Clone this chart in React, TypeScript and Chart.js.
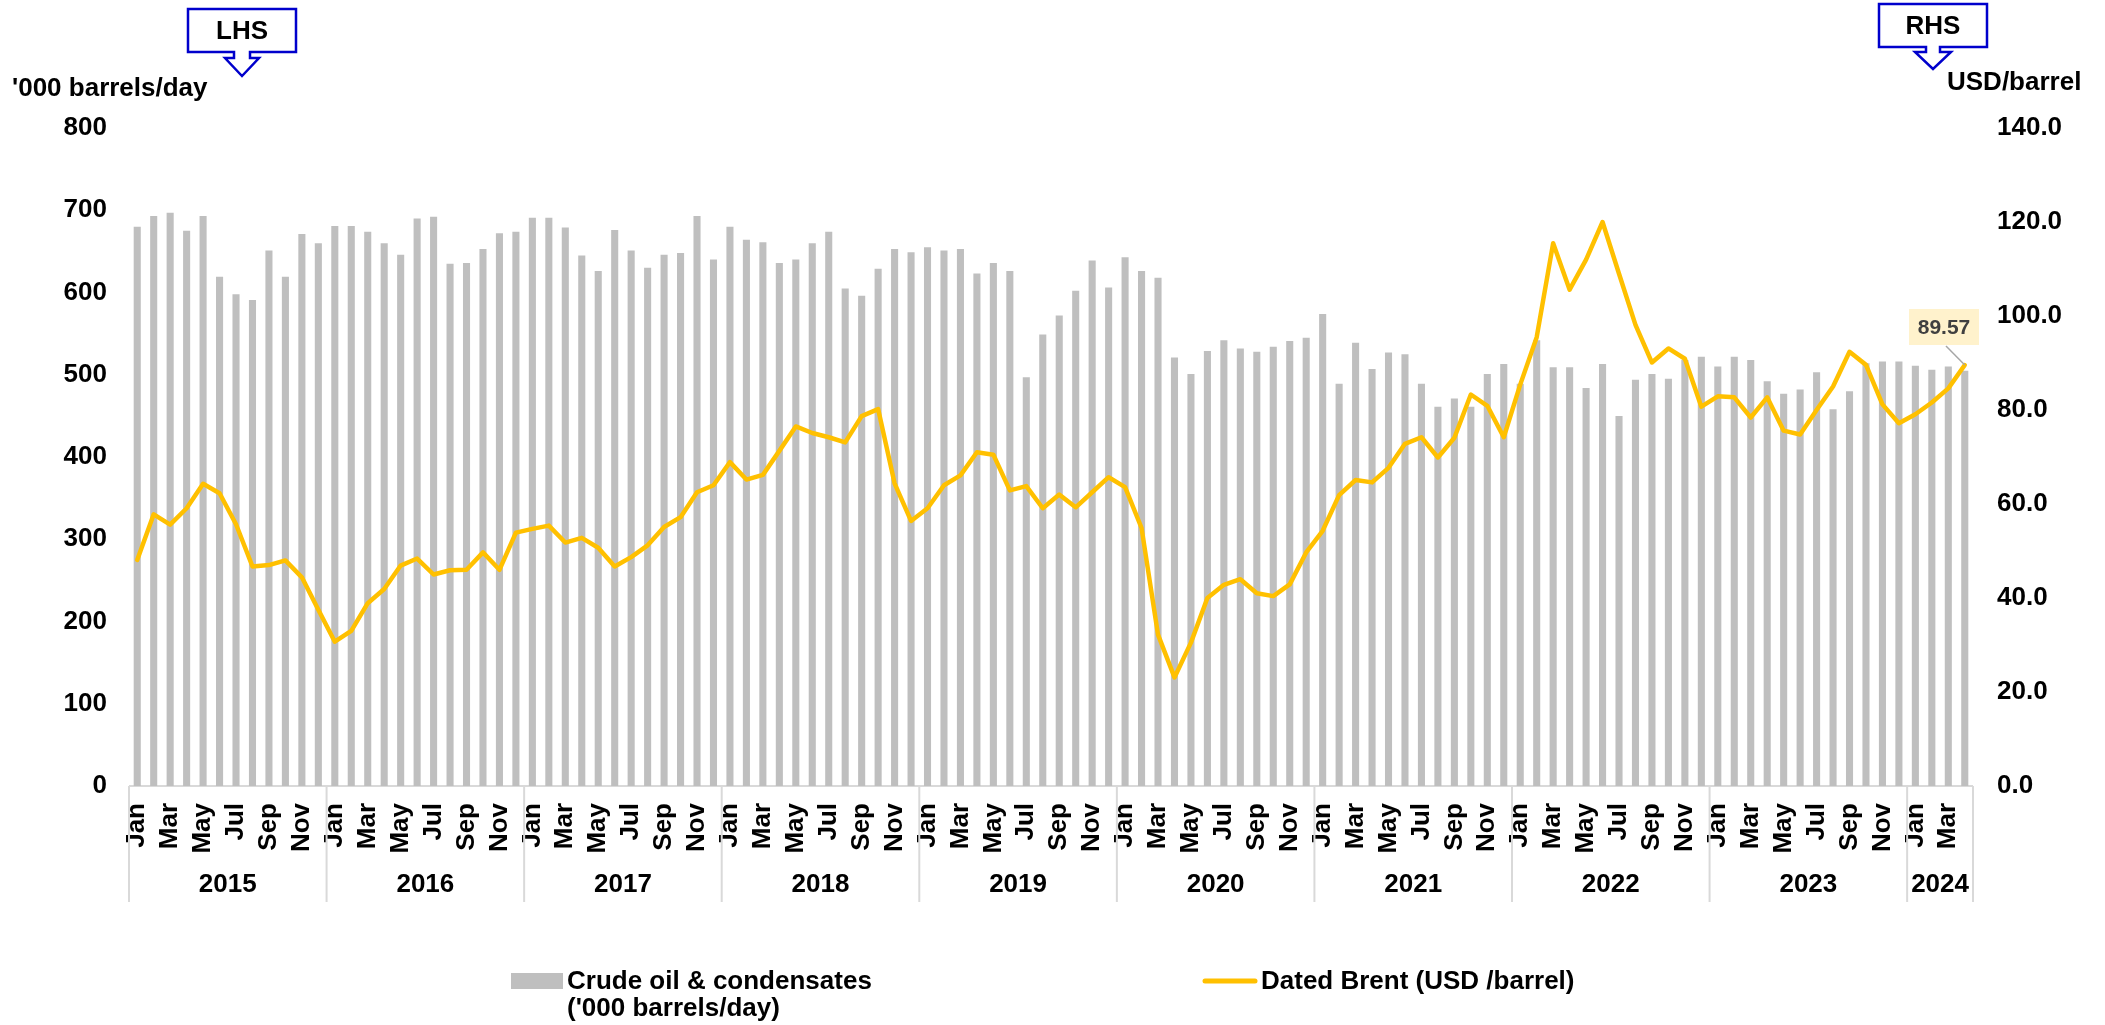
import React, { useEffect, useRef } from "react";
import { Chart, registerables } from "chart.js";

Chart.register(...registerables);

const YEARS = ["2015", "2016", "2017", "2018", "2019", "2020", "2021", "2022", "2023", "2024"];
const MONTHS = ["Jan", "Feb", "Mar", "Apr", "May", "Jun", "Jul", "Aug", "Sep", "Oct", "Nov", "Dec"];
const MONTHS_PER_YEAR = [12, 12, 12, 12, 12, 12, 12, 12, 12, 4];

// Crude oil & condensates ('000 barrels/day), Jan 2015 .. Apr 2024
const CRUDE = [
  680, 693, 697, 675, 693, 619, 598, 591, 651, 619, 671, 660,
  681, 681, 674, 660, 646, 690, 692, 635, 636, 653, 672, 674,
  691, 691, 679, 645, 626, 676, 651, 630, 646, 648, 693, 640,
  680, 664, 661, 636, 640, 660, 674, 605, 596, 629, 653, 649,
  655, 651, 653, 623, 636, 626, 497, 549, 572, 602, 639, 606,
  643, 626, 618, 521, 501, 529, 542, 532, 528, 534, 541, 545,
  574, 489, 539, 507, 527, 525, 489, 461, 471, 461, 501, 513,
  489, 542, 509, 509, 484, 513, 450, 494, 501, 495, 518, 522,
  510, 522, 518, 492, 477, 482, 503, 458, 480, 514, 516, 516,
  511, 506, 510, 505,
];

// Dated Brent (USD/barrel), Jan 2015 .. Apr 2024
const BRENT = [
  48.1, 57.8, 55.6, 59.1, 64.3, 62.3, 55.7, 46.7, 47.0, 48.0, 44.4, 37.5,
  30.7, 33.0, 38.9, 41.9, 46.9, 48.4, 45.0, 45.9, 46.0, 49.7, 46.0, 53.9,
  54.7, 55.4, 51.8, 52.8, 50.7, 46.7, 48.7, 51.2, 55.1, 57.2, 62.5, 64.0,
  68.9, 65.2, 66.2, 71.3, 76.5, 75.1, 74.2, 73.1, 78.7, 80.2, 64.4, 56.4,
  59.1, 64.0, 66.1, 71.0, 70.5, 62.9, 63.8, 59.1, 62.0, 59.3, 62.5, 65.7,
  63.6, 54.9, 32.2, 23.1, 30.5, 40.0, 42.8, 44.0, 41.0, 40.4, 42.9, 49.7,
  54.3, 61.9, 65.1, 64.6, 67.7, 72.8, 74.2, 69.9, 74.1, 83.3, 80.9, 74.2,
  85.4, 95.5, 115.5, 105.6, 112.0, 120.0, 109.0, 98.1, 90.1, 93.1, 90.9, 80.7,
  82.9, 82.7, 78.4, 82.7, 75.6, 74.8, 80.0, 85.0, 92.4, 89.6, 81.2, 77.2,
  79.1, 81.6, 84.6, 89.57,
];

const LEFT_AXIS = { min: 0, max: 800, step: 100 };
const RIGHT_AXIS = { min: 0, max: 140, step: 20 };
const LAST_LABEL = "89.57";

const W = 2105;
const H = 1025;
const PLOT_LEFT = 129;
const PLOT_RIGHT = 1973;
const PLOT_TOP = 128;
const PLOT_BOTTOM = 786;
const FONT = '"Liberation Sans", Arial, sans-serif';
const BOLD26 = `bold 26px ${FONT}`;

const CAT_MONTH: string[] = [];
const CAT_LABELS: string[] = [];
YEARS.forEach((y, yi) => {
  for (let m = 0; m < MONTHS_PER_YEAR[yi]; m++) {
    CAT_MONTH.push(MONTHS[m]);
    CAT_LABELS.push(`${MONTHS[m]} ${y}`);
  }
});

function drawArrowBox(ctx: CanvasRenderingContext2D, x0: number, y0: number, x1: number, y1: number,
  cx: number, stemHalf: number, headHalf: number, stemBottom: number, tip: number, text: string, textY: number) {
  ctx.save();
  ctx.beginPath();
  ctx.moveTo(x0, y0);
  ctx.lineTo(x1, y0);
  ctx.lineTo(x1, y1);
  ctx.lineTo(cx + stemHalf, y1);
  ctx.lineTo(cx + stemHalf, stemBottom);
  ctx.lineTo(cx + headHalf, stemBottom);
  ctx.lineTo(cx, tip);
  ctx.lineTo(cx - headHalf, stemBottom);
  ctx.lineTo(cx - stemHalf, stemBottom);
  ctx.lineTo(cx - stemHalf, y1);
  ctx.lineTo(x0, y1);
  ctx.closePath();
  ctx.fillStyle = "#ffffff";
  ctx.fill();
  ctx.strokeStyle = "#0000CC";
  ctx.lineWidth = 2.5;
  ctx.lineJoin = "miter";
  ctx.stroke();
  ctx.fillStyle = "#000";
  ctx.font = BOLD26;
  ctx.textAlign = "center";
  ctx.textBaseline = "middle";
  ctx.fillText(text, (x0 + x1) / 2, textY);
  ctx.restore();
}

const decorPlugin = {
  id: "decor",
  beforeDatasetsDraw(chart: any) {
    const { ctx, chartArea, scales } = chart;
    const y0 = scales.yL.getPixelForValue(0);
    ctx.save();
    ctx.strokeStyle = "#D9D9D9";
    ctx.lineWidth = 2;
    ctx.beginPath();
    ctx.moveTo(chartArea.left, y0);
    ctx.lineTo(chartArea.right, y0);
    ctx.stroke();
    ctx.restore();
  },
  afterDraw(chart: any) {
    const { ctx, scales } = chart;
    const xs = scales.x;
    const y0 = scales.yL.getPixelForValue(0);
    const half = (xs.getPixelForValue(1) - xs.getPixelForValue(0)) / 2;

    ctx.save();
    // month labels
    ctx.font = BOLD26;
    ctx.fillStyle = "#000";
    ctx.textAlign = "right";
    ctx.textBaseline = "middle";
    CAT_MONTH.forEach((m, i) => {
      if (MONTHS.indexOf(m) % 2 !== 0) return;
      const x = xs.getPixelForValue(i);
      ctx.save();
      ctx.translate(x, y0 + 17);
      ctx.rotate(-Math.PI / 2);
      ctx.fillText(m, 0, 0);
      ctx.restore();
    });

    // year groups
    let start = 0;
    ctx.strokeStyle = "#D9D9D9";
    ctx.lineWidth = 2;
    const sepBottom = y0 + 116;
    YEARS.forEach((y, yi) => {
      const end = start + MONTHS_PER_YEAR[yi] - 1;
      const left = xs.getPixelForValue(start) - half;
      const right = xs.getPixelForValue(end) + half;
      ctx.beginPath();
      ctx.moveTo(left, y0);
      ctx.lineTo(left, sepBottom);
      ctx.stroke();
      if (yi === YEARS.length - 1) {
        ctx.beginPath();
        ctx.moveTo(right, y0);
        ctx.lineTo(right, sepBottom);
        ctx.stroke();
      }
      ctx.textAlign = "center";
      ctx.textBaseline = "middle";
      ctx.fillText(y, (left + right) / 2, y0 + 99);
      start = end + 1;
    });

    // axis titles
    ctx.textAlign = "left";
    ctx.textBaseline = "middle";
    ctx.fillText("'000 barrels/day", 12, 89);
    ctx.fillText("USD/barrel", 1947, 83);
    ctx.restore();

    drawArrowBox(ctx, 188, 9, 296, 52, 242, 8, 17, 58, 76, "LHS", 32);
    drawArrowBox(ctx, 1879, 4, 1987, 47, 1933, 7, 18, 52, 69, "RHS", 27);

    // last-point data label
    const lastIdx = BRENT.length - 1;
    const px = xs.getPixelForValue(lastIdx);
    const py = scales.yR.getPixelForValue(BRENT[lastIdx]);
    ctx.save();
    ctx.strokeStyle = "#A6A6A6";
    ctx.lineWidth = 1.5;
    ctx.beginPath();
    ctx.moveTo(1946, 346);
    ctx.lineTo(px, py);
    ctx.stroke();
    ctx.fillStyle = "#FFF2CC";
    ctx.fillRect(1909, 309, 70, 36);
    ctx.fillStyle = "#404040";
    ctx.font = `bold 21px ${FONT}`;
    ctx.textAlign = "center";
    ctx.textBaseline = "middle";
    ctx.fillText(LAST_LABEL, 1944, 328);
    ctx.restore();

    // legend
    ctx.save();
    ctx.fillStyle = "#BFBFBF";
    ctx.fillRect(511, 973, 52, 16);
    ctx.strokeStyle = "#FFC000";
    ctx.lineWidth = 5;
    ctx.lineCap = "round";
    ctx.beginPath();
    ctx.moveTo(1205, 981);
    ctx.lineTo(1255, 981);
    ctx.stroke();
    ctx.fillStyle = "#000";
    ctx.font = BOLD26;
    ctx.textAlign = "left";
    ctx.textBaseline = "middle";
    ctx.fillText("Crude oil & condensates", 567, 982);
    ctx.fillText("('000 barrels/day)", 567, 1009);
    ctx.fillText("Dated Brent (USD /barrel)", 1261, 982);
    ctx.restore();
  },
};

export default function App() {
  const ref = useRef<HTMLCanvasElement | null>(null);

  useEffect(() => {
    if (!ref.current) return;
    const chart = new Chart(ref.current, {
      type: "bar",
      data: {
        labels: CAT_LABELS,
        datasets: [
          {
            type: "line",
            label: "Dated Brent (USD /barrel)",
            data: BRENT,
            yAxisID: "yR",
            borderColor: "#FFC000",
            backgroundColor: "#FFC000",
            borderWidth: 4.5,
            pointRadius: 0,
            tension: 0,
            borderJoinStyle: "round",
            borderCapStyle: "round",
            order: 0,
          } as any,
          {
            type: "bar",
            label: "Crude oil & condensates ('000 barrels/day)",
            data: CRUDE,
            yAxisID: "yL",
            backgroundColor: "#BFBFBF",
            barPercentage: 0.43,
            categoryPercentage: 1.0,
            order: 1,
          } as any,
        ],
      },
      options: {
        responsive: false,
        animation: false,
        devicePixelRatio: 1,
        layout: { padding: { top: PLOT_TOP, left: 0, right: 0, bottom: 0 } },
        plugins: { legend: { display: false }, tooltip: { enabled: false } },
        scales: {
          x: {
            type: "category",
            offset: true,
            grid: { display: false },
            border: { display: false },
            ticks: { display: false },
            afterFit: (s: any) => { s.height = H - PLOT_BOTTOM; },
          },
          yL: {
            type: "linear",
            position: "left",
            min: LEFT_AXIS.min,
            max: LEFT_AXIS.max,
            grid: { display: false, drawTicks: false },
            border: { display: false },
            ticks: {
              stepSize: LEFT_AXIS.step,
              padding: 22,
              color: "#000",
              font: { family: FONT, size: 26, weight: "bold" },
            },
            afterFit: (s: any) => { s.width = PLOT_LEFT; },
          },
          yR: {
            type: "linear",
            position: "right",
            min: RIGHT_AXIS.min,
            max: RIGHT_AXIS.max,
            grid: { display: false, drawTicks: false },
            border: { display: false },
            ticks: {
              stepSize: RIGHT_AXIS.step,
              padding: 24,
              color: "#000",
              font: { family: FONT, size: 26, weight: "bold" },
              callback: (v: any) => Number(v).toFixed(1),
            },
            afterFit: (s: any) => { s.width = W - PLOT_RIGHT; },
          },
        },
      } as any,
      plugins: [decorPlugin],
    });
    return () => chart.destroy();
  }, []);

  return (
    <div style={{ position: "fixed", left: 0, top: 0, width: W, height: H, background: "#fff" }}>
      <canvas ref={ref} width={W} height={H} style={{ width: W, height: H, display: "block" }} />
    </div>
  );
}
